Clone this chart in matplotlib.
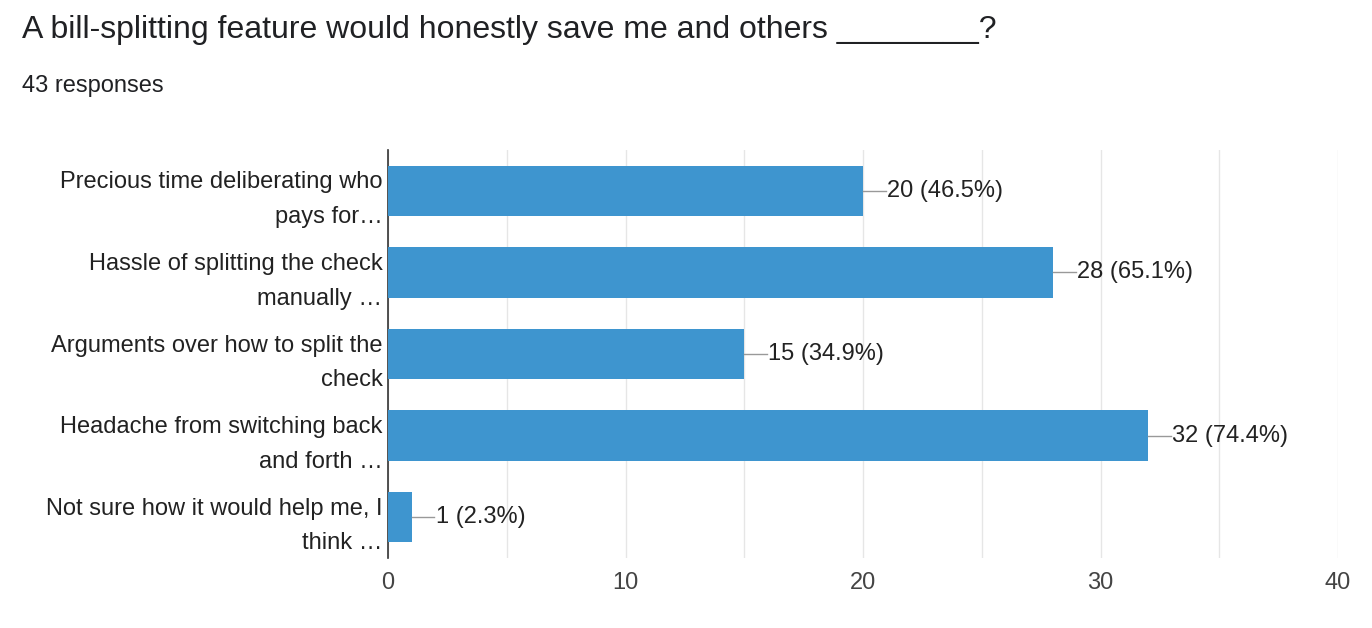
import matplotlib.pyplot as plt

plt.rcParams["font.family"] = "Liberation Sans"

categories = [
    "Precious time deliberating who\npays for\u2026",
    "Hassle of splitting the check\nmanually \u2026",
    "Arguments over how to split the\ncheck",
    "Headache from switching back\nand forth \u2026",
    "Not sure how it would help me, I\nthink \u2026",
]
counts = [20, 28, 15, 32, 1]
percents = ["46.5%", "65.1%", "34.9%", "74.4%", "2.3%"]
xticks = [0, 10, 20, 30, 40]

fig = plt.figure(figsize=(13.72, 6.28), dpi=100)
ax = fig.add_axes([388 / 1372, 1 - 558 / 628, 950 / 1372, 408 / 628])

ypos = list(range(len(categories)))
ax.barh(ypos, counts, height=0.62, color="#3e95cf", zorder=3)

for y, c, p in zip(ypos, counts, percents):
    ax.plot([c, c + 0.95], [y, y], color="#999999", lw=1, zorder=3)
    ax.text(c + 1.0, y, f"{c} ({p})", va="center", ha="left", fontsize=17, color="#222222")

ax.set_xlim(0, 40)
ax.set_ylim(len(categories) - 0.5, -0.5)
ax.set_xticks(xticks)
ax.set_xticklabels([str(t) for t in xticks], fontsize=17, color="#444444")
ax.set_xticks(range(0, 41, 5), minor=True)
ax.grid(axis="x", which="both", color="#e6e6e6", lw=1, zorder=0)
ax.set_yticks(ypos)
ax.set_yticklabels(categories, fontsize=17, color="#222222", linespacing=1.75)
ax.tick_params(axis="both", length=0, pad=4)
ax.tick_params(axis="x", which="minor", length=0)
ax.tick_params(axis="x", pad=10)

for s in ["top", "right", "bottom"]:
    ax.spines[s].set_visible(False)
ax.spines["left"].set_color("#333333")
ax.spines["left"].set_linewidth(1.2)

fig.text(22 / 1372, 1 - 30 / 628, "A bill-splitting feature would honestly save me and others ________?",
         fontsize=23, va="center", ha="left", color="#202124")
fig.text(22 / 1372, 1 - 86 / 628, "43 responses", fontsize=17, va="center", ha="left", color="#202124")

fig.savefig("out.png", dpi=100)
